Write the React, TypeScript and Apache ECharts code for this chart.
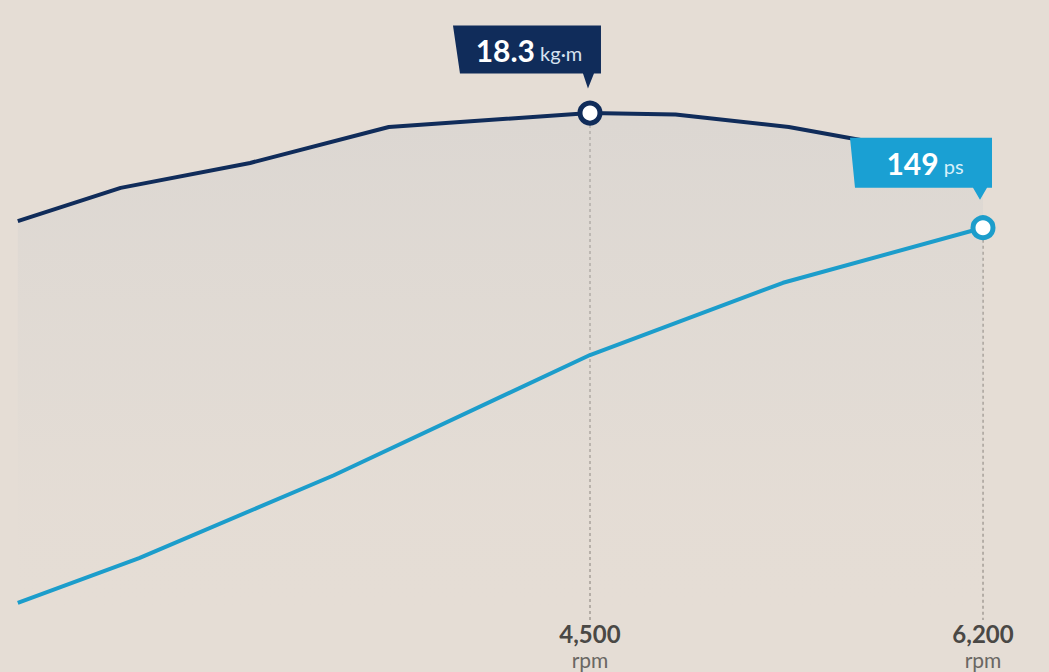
import React, { useEffect, useRef } from "react";
import * as echarts from "echarts";

const torqueRpm = [2025, 2470, 3030, 3630, 4500, 4870, 5360, 5820, 6200];
const torqueValues = [14.4, 15.6, 16.5, 17.8, 18.3, 18.25, 17.8, 17.1, 16.6];
const powerRpm = [2025, 2550, 3390, 4500, 5335, 6200];
const powerValues = [40, 53, 77, 112, 133, 149];
const xTickValues = [4500, 6200];
const xTickLabels = ["4,500", "6,200"];
const peakTorque = { rpm: 4500, value: 18.3, unit: "kg·m" };
const peakPower = { rpm: 6200, value: 149, unit: "ps" };

const BG = "#e5ddd5";
const NAVY = "#102c5a";
const CYAN_LINE = "#1c9dcb";
const CYAN_BOX = "#1aa0d3";
const FONT = "Lato, 'Open Sans', sans-serif";

export default function App() {
  const ref = useRef<HTMLDivElement>(null);
  useEffect(() => {
    if (!ref.current) return;
    const chart = echarts.init(ref.current, null, { renderer: "svg" });
    const torqueData = torqueRpm.map((r, i) => {
      const v = [r, torqueValues[i]];
      if (r === peakTorque.rpm) {
        return {
          value: v,
          symbol: "circle",
          symbolSize: 20,
          itemStyle: { color: "#ffffff", borderColor: NAVY, borderWidth: 5 },
        };
      }
      return { value: v };
    });
    const powerData = powerRpm.map((r, i) => {
      const v = [r, powerValues[i]];
      if (r === peakPower.rpm) {
        return {
          value: v,
          symbol: "circle",
          symbolSize: 20,
          itemStyle: { color: "#ffffff", borderColor: CYAN_LINE, borderWidth: 5 },
        };
      }
      return { value: v };
    });
    const tickLabel = (val: number) => {
      const idx = xTickValues.indexOf(val);
      return idx >= 0 ? `{v|${xTickLabels[idx]}}\n{u|rpm}` : "";
    };
    chart.setOption({
      animation: false,
      backgroundColor: BG,
      textStyle: { fontFamily: FONT },
      grid: { left: 12, right: 66, top: 66, bottom: 52 },
      xAxis: {
        type: "value",
        min: 2000,
        max: 6200,
        axisLine: { show: false },
        axisTick: { show: false },
        splitLine: { show: false },
        axisLabel: {
          customValues: xTickValues,
          margin: 0,
          formatter: tickLabel,
          rich: {
            v: { fontFamily: FONT, fontSize: 24, fontWeight: "bold", color: "#4a4845", lineHeight: 27 },
            u: { fontFamily: FONT, fontSize: 21, color: "#6a6763", lineHeight: 24 },
          },
        },
      },
      yAxis: [
        { type: "value", min: 0, max: 20, show: false },
        { type: "value", min: 35, max: 196, show: false },
      ],
      series: [
        {
          type: "line",
          yAxisIndex: 0,
          z: 3,
          symbol: "none",
          data: torqueData,
          lineStyle: { color: NAVY, width: 4 },
          areaStyle: {
            color: new echarts.graphic.LinearGradient(0, 0, 0, 1, [
              { offset: 0, color: "rgba(205,205,205,0.55)" },
              { offset: 0.55, color: "rgba(215,213,210,0.35)" },
              { offset: 1, color: "rgba(229,221,213,0)" },
            ]),
          },
          markLine: {
            silent: true,
            symbol: ["none", "none"],
            label: { show: false },
            z: 1,
            lineStyle: { color: "#b3aca5", type: [3, 3], width: 2 },
            data: [[{ coord: [peakTorque.rpm, peakTorque.value] }, { coord: [peakTorque.rpm, 0] }]],
          },
          markPoint: {
            silent: true,
            symbol: "path://M0 0 L148 0 L148 48 L141 48 L135 63 L130 48 L7 48 Z",
            symbolSize: [148, 63],
            symbolOffset: [-63, -56],
            itemStyle: { color: NAVY },
            label: {
              show: true,
              position: "inside",
              offset: [2, -7],
              formatter: () => `{a|${peakTorque.value}}{b| ${peakTorque.unit}}`,
              rich: {
                a: { fontFamily: FONT, fontSize: 30, fontWeight: "bold", color: "#ffffff" },
                b: { fontFamily: FONT, fontSize: 20, color: "#d6e2f0", padding: [6, 0, 0, 0] },
              },
            },
            data: [{ coord: [peakTorque.rpm, peakTorque.value], value: peakTorque.value }],
          },
        },
        {
          type: "line",
          yAxisIndex: 1,
          z: 4,
          symbol: "none",
          data: powerData,
          lineStyle: { color: CYAN_LINE, width: 4 },
          markLine: {
            silent: true,
            symbol: ["none", "none"],
            label: { show: false },
            z: 1,
            lineStyle: { color: "#b3aca5", type: [3, 3], width: 2 },
            data: [[{ coord: [peakPower.rpm, peakPower.value] }, { coord: [peakPower.rpm, 35] }]],
          },
          markPoint: {
            silent: true,
            symbol: "path://M0 0 L142 0 L142 50 L137 50 L130 62 L123 50 L5 50 Z",
            symbolSize: [142, 62],
            symbolOffset: [-62, -59],
            itemStyle: { color: CYAN_BOX },
            label: {
              show: true,
              position: "inside",
              offset: [4, -6],
              formatter: () => `{a|${peakPower.value}}{b| ${peakPower.unit}}`,
              rich: {
                a: { fontFamily: FONT, fontSize: 30, fontWeight: "bold", color: "#ffffff" },
                b: { fontFamily: FONT, fontSize: 20, color: "#d8f0fa", padding: [6, 0, 0, 0] },
              },
            },
            data: [{ coord: [peakPower.rpm, peakPower.value], value: peakPower.value }],
          },
        },
      ],
    });
    return () => chart.dispose();
  }, []);
  return (
    <div
      ref={ref}
      style={{ position: "fixed", left: 0, top: 0, width: 1049, height: 672, background: BG }}
    />
  );
}
